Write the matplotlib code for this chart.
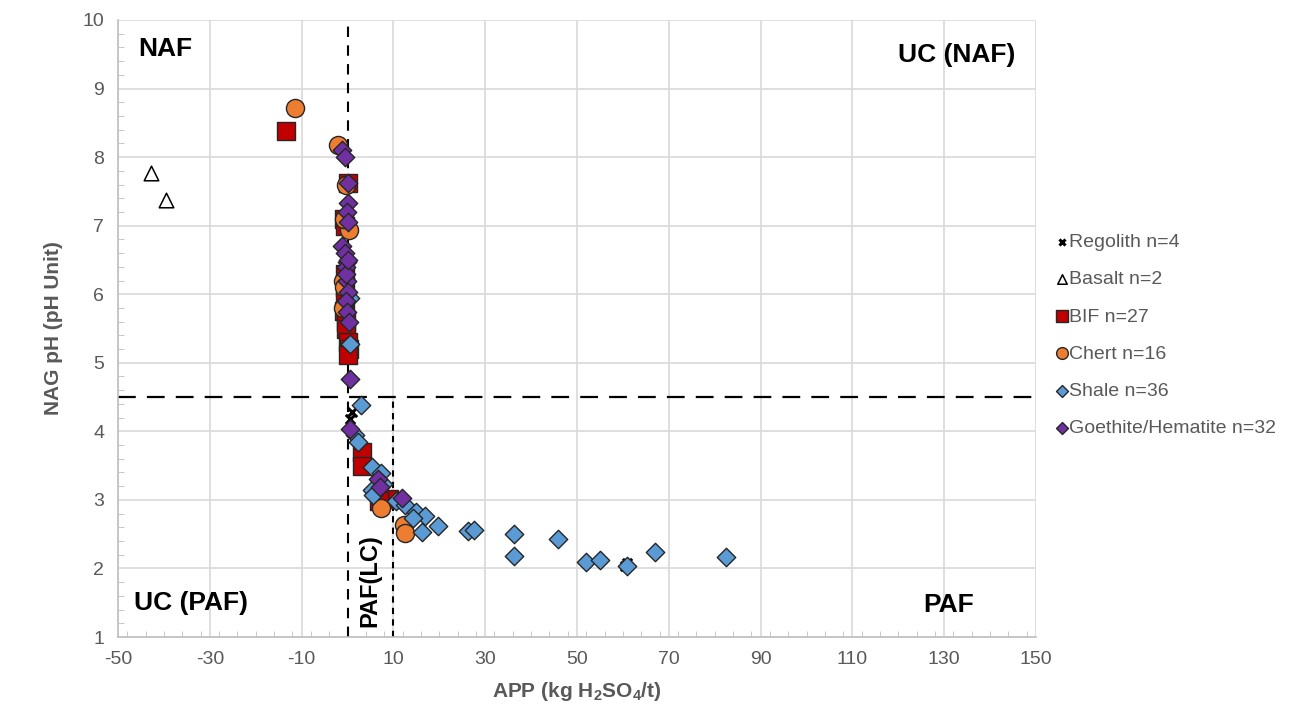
import matplotlib
matplotlib.use("Agg")
import matplotlib.pyplot as plt
from matplotlib.ticker import MultipleLocator, FixedLocator

plt.rcParams['font.family'] = ['Liberation Sans', 'DejaVu Sans']

# ---------------- data ----------------
regolith_x = [1.0, 0.6, 60.8, 60.4]
regolith_y = [4.28, 4.18, 2.08, 2.04]

basalt_x = [-42.8, -39.5]
basalt_y = [7.77, 7.37]

bif_x = [-13.4, 0.1, -0.8, -0.5, -0.6, -0.5, -0.5, -0.7, -0.4, -0.3, 0.2, 0.3, 0.1, 3.1, 3.2, 9.0, 6.8]
bif_y = [8.38, 7.62, 7.10, 7.00, 6.30, 6.10, 5.90, 5.75, 5.60, 5.50, 5.30, 5.20, 5.12, 3.70, 3.50, 3.02, 2.98]

chert_x = [-11.4, -2.1, -0.3, 0.4, -0.8, -0.9, -0.7, -1.0, 7.4, 12.3, 12.5]
chert_y = [8.72, 8.18, 7.60, 6.94, 7.10, 6.20, 6.10, 5.80, 2.88, 2.63, 2.52]

shale_x = [0.6, 0.5, 2.9, 1.6, 2.2, 5.3, 7.4, 5.3, 5.6, 7.8, 10.5, 12.5, 14.9, 16.9, 14.3,
           16.2, 19.7, 26.2, 27.6, 36.3, 36.3, 45.9, 52.0, 55.0, 61.0, 67.1, 82.5]
shale_y = [5.27, 5.95, 4.39, 3.94, 3.85, 3.48, 3.39, 3.14, 3.07, 3.23, 2.98, 2.93, 2.82, 2.77, 2.74,
           2.53, 2.62, 2.55, 2.56, 2.50, 2.18, 2.43, 2.09, 2.13, 2.03, 2.24, 2.16]

goethite_x = [-1.2, -0.5, 0.0, 0.0, -0.2, 0.0, -1.2, -0.5, -0.1, -0.3, -0.1, 0.1, -0.3, -0.2,
              0.3, 0.6, 0.5, 6.6, 7.1, 11.8, -0.4, 0.0]
goethite_y = [8.10, 8.00, 7.62, 7.33, 7.20, 7.05, 6.70, 6.60, 6.47, 6.40, 6.20, 6.03, 5.90, 5.74,
              5.60, 4.77, 4.04, 3.30, 3.19, 3.03, 6.30, 6.50]

labels = ["Regolith n=4", "Basalt n=2", "BIF n=27", "Chert n=16", "Shale n=36",
          "Goethite/Hematite n=32"]

x_ticks = [-50, -30, -10, 10, 30, 50, 70, 90, 110, 130, 150]
y_ticks = [1, 2, 3, 4, 5, 6, 7, 8, 9, 10]

# ---------------- figure ----------------
fig = plt.figure(figsize=(12.93, 7.15), dpi=100)
ax = fig.add_axes([118/1293, 1-637/715, (1036-118)/1293, (637-20)/715])

ax.set_xlim(-50, 150)
ax.set_ylim(1, 10)
ax.xaxis.set_major_locator(FixedLocator(x_ticks))
ax.yaxis.set_major_locator(FixedLocator(y_ticks))
ax.xaxis.set_minor_locator(MultipleLocator(4))
ax.yaxis.set_minor_locator(MultipleLocator(0.2))
ax.grid(True, which='major', color='#D9D9D9', lw=1.2, zorder=0)
ax.set_axisbelow(True)
for s in ['top', 'right']:
    ax.spines[s].set_visible(False)
for s in ['left', 'bottom']:
    ax.spines[s].set_color('#BFBFBF')
    ax.spines[s].set_linewidth(1.2)
ax.tick_params(which='major', length=0, labelsize=14, labelcolor='#595959', pad=10)
ax.tick_params(which='minor', direction='in', length=4, color='#BFBFBF')
ax.set_xticklabels([str(v) for v in x_ticks])

ax.set_xlabel("APP (kg H$_\\mathregular{2}$SO$_\\mathregular{4}$/t)", fontsize=15, fontweight='bold',
              color='#595959', labelpad=9)
ax.set_ylabel("NAG pH (pH Unit)", fontsize=15, fontweight='bold', color='#595959', labelpad=14)

# reference lines
ax.plot([-50, 150], [4.5, 4.5], color='black', lw=1.6, ls=(0, (8, 5)), zorder=2)
ax.plot([0, 0], [1, 10], color='black', lw=1.5, ls=(0, (5, 4)), zorder=2)
ax.plot([10, 10], [1, 4.5], color='black', lw=1.5, ls=(0, (3, 2.5)), zorder=2)

edge = '#262626'
h1 = ax.scatter(regolith_x, regolith_y, marker='x', s=45, c='black', linewidths=2.2, zorder=3)
h2 = ax.scatter(basalt_x, basalt_y, marker='^', s=110, facecolors='white', edgecolors='black',
                linewidths=1.1, zorder=4)
h3 = ax.scatter(bif_x, bif_y, marker='s', s=150, c='#C00000', edgecolors=edge, linewidths=1.0, zorder=5)
h4 = ax.scatter(chert_x, chert_y, marker='o', s=170, c='#ED7D31', edgecolors=edge, linewidths=1.0, zorder=6)
h5 = ax.scatter(shale_x, shale_y, marker='D', s=88, c='#5B9BD5', edgecolors=edge, linewidths=1.0, zorder=7)
h6 = ax.scatter(goethite_x, goethite_y, marker='D', s=88, c='#7030A0', edgecolors=edge, linewidths=1.0, zorder=8)

# zone labels
ax.text(-45.5, 9.58, "NAF", fontsize=19, fontweight='bold', ha='left', va='center')
ax.text(145.5, 9.49, "UC (NAF)", fontsize=19, fontweight='bold', ha='right', va='center')
ax.text(-46.5, 1.49, "UC (PAF)", fontsize=19, fontweight='bold', ha='left', va='center')
ax.text(131, 1.47, "PAF", fontsize=19, fontweight='bold', ha='center', va='center')
ax.text(4.8, 1.82, "PAF(LC)", fontsize=17, fontweight='bold', rotation=90, ha='center', va='center')

leg = fig.legend([h1, h2, h3, h4, h5, h6], labels, loc='upper left',
                 bbox_to_anchor=(1049/1293, 1-226/715), frameon=False, fontsize=14,
                 markerscale=0.65, handlelength=0.5, handletextpad=0.15, labelspacing=1.0,
                 labelcolor='#595959', borderaxespad=0)

fig.savefig("out.png", dpi=100)
